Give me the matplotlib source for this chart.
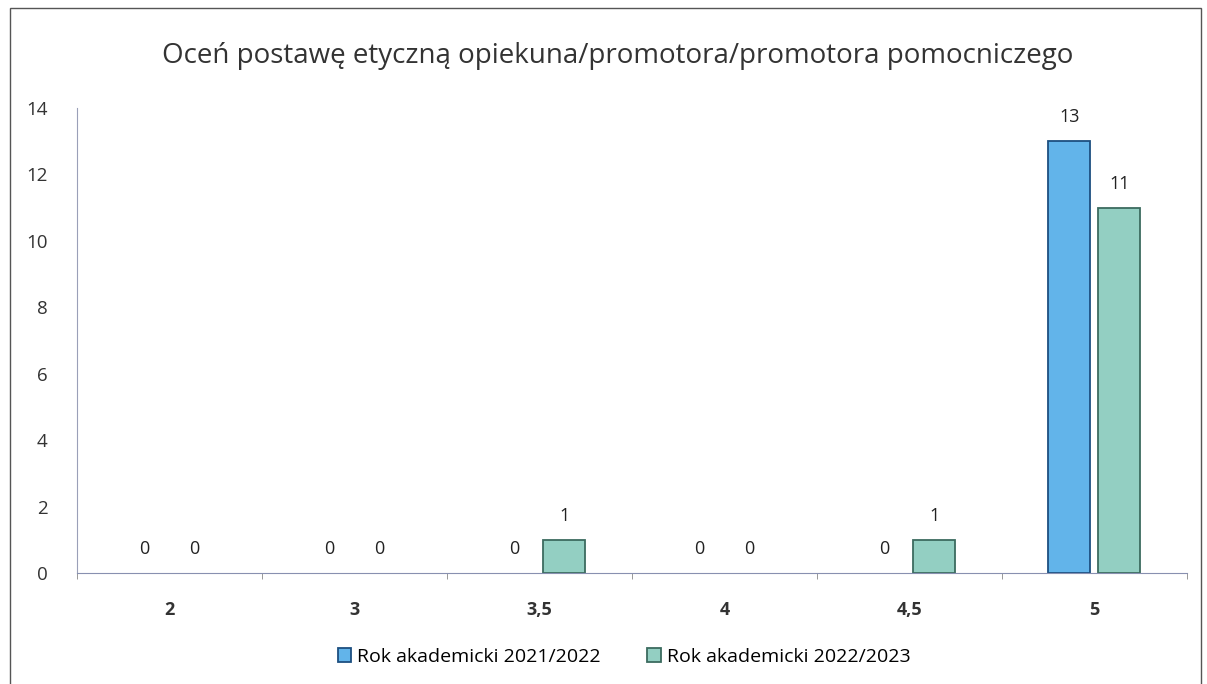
import matplotlib
matplotlib.use("Agg")
import matplotlib.pyplot as plt
from matplotlib.patches import Rectangle, Patch
import numpy as np

categories = ["2", "3", "3,5", "4", "4,5", "5"]
series_2122 = [0, 0, 0, 0, 0, 13]
series_2223 = [0, 0, 1, 0, 1, 11]
series_names = ["Rok akademicki 2021/2022", "Rok akademicki 2022/2023"]
title = "Oceń postawę etyczną opiekuna/promotora/promotora pomocniczego"

plt.rcParams['font.family'] = ['Open Sans', 'DejaVu Sans']

fig = plt.figure(figsize=(12.07, 6.84), dpi=100)
fig.patch.set_facecolor("white")
# outer frame
fig.add_artist(Rectangle((0.008, -0.01), 0.987, 0.998, transform=fig.transFigure,
                         fill=False, edgecolor="#555555", linewidth=1.0))

ax = fig.add_axes([0.0638, 0.1623, 0.9196, 0.6797])
x = np.arange(len(categories))
w = 0.227
off = 0.135
c1, e1 = "#62b4ea", "#1d4f80"
c2, e2 = "#93cfc2", "#3c6b5f"
b1 = ax.bar(x - off, series_2122, w, color=c1, edgecolor=e1, linewidth=1.3)
b2 = ax.bar(x + off, series_2223, w, color=c2, edgecolor=e2, linewidth=1.3)
for bars, vals in ((b1, series_2122), (b2, series_2223)):
    for rect, v in zip(bars, vals):
        if v == 0:
            rect.set_linewidth(0)
        ax.text(rect.get_x() + rect.get_width() / 2, v + 0.45, str(v),
                ha="center", va="bottom", fontsize=13, color="#222222")

ax.set_xlim(-0.5, len(categories) - 0.5)
ax.set_ylim(0, 14)
ax.set_yticks(range(0, 15, 2))
ax.set_xticks(x)
ax.set_xticklabels(categories, fontweight="bold", fontsize=13, color="#333333")
ax.set_xticks(np.arange(-0.5, len(categories), 1), minor=True)
ax.tick_params(axis="x", which="major", length=0, pad=20)
ax.tick_params(axis="x", which="minor", length=4, color="#888888")
ax.tick_params(axis="y", length=0, pad=21, labelsize=13.5, labelcolor="#333333")
for s in ("top", "right"):
    ax.spines[s].set_visible(False)
ax.spines["left"].set_color("#9aa0b8")
ax.spines["bottom"].set_color("#8890b0")

fig.text(0.512, 0.918, title, ha="center", va="center", fontsize=20, color="#333333")
handles = [Patch(facecolor=c1, edgecolor=e1, linewidth=1.3),
           Patch(facecolor=c2, edgecolor=e2, linewidth=1.3)]
fig.legend(handles, series_names, loc="center", bbox_to_anchor=(0.517, 0.04), ncol=2,
           frameon=False, fontsize=14, handlelength=0.7, handleheight=0.7,
           columnspacing=2.4, handletextpad=0.3)

fig.savefig("out.png", dpi=100, facecolor="white")
